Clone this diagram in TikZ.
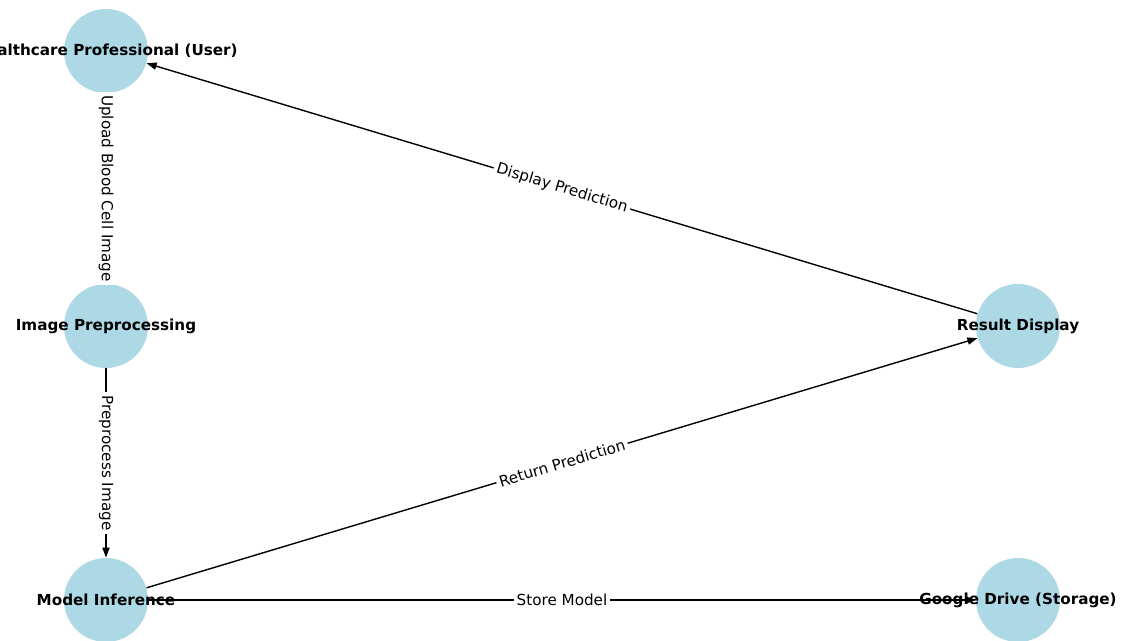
\documentclass[tikz,border=0pt]{standalone}
\usepackage{fontspec}
\setmainfont{DejaVu Sans}
\usetikzlibrary{arrows.meta}
\definecolor{nodeblue}{HTML}{ADD8E6}
\tikzset{
  station/.style={circle, fill=nodeblue, minimum size=42pt, inner sep=0pt},
  stationtext/.style={font=\fontsize{7.6}{9}\selectfont\bfseries},
  flow/.style={->, line width=0.7pt},
  flowtext/.style={midway, sloped, fill=white, inner sep=1.5pt, font=\fontsize{7.6}{9}\selectfont},
}
\begin{document}
\begin{tikzpicture}[x=0.5pt, y=-0.5pt, >={Triangle[length=5pt,width=3.6pt]}]
\useasboundingbox (0,0) rectangle (1121,641);
\clip (0,0) rectangle (1121,641);
% circles
\node[station] (user) at (106,51) {};
\node[station] (prep) at (106,326) {};
\node[station] (infer) at (106,600) {};
\node[station] (result) at (1018,326) {};
\node[station] (drive) at (1018,600) {};

% connectors
\draw[flow] (user) -- node[flowtext] (uploadlbl) {Upload Blood Cell Image} (prep);
\draw[flow] (prep) -- node[flowtext] (preplbl) {Preprocess Image} (infer);
\draw[flow] (infer) -- node[flowtext] (returnlbl) {Return Prediction} (result);
\draw[flow] (result) -- node[flowtext] (displaylbl) {Display Prediction} (user);
\draw[flow] (infer) -- node[flowtext] (storelbl) {Store Model} (drive);

% node texts
\node[stationtext] (usertext) at (user) {Healthcare Professional (User)};
\node[stationtext] (preptext) at (prep) {Image Preprocessing};
\node[stationtext] (infertext) at (infer) {Model Inference};
\node[stationtext] (resulttext) at (result) {Result Display};
\node[stationtext] (drivetext) at (drive) {Google Drive (Storage)};
\end{tikzpicture}
\end{document}
